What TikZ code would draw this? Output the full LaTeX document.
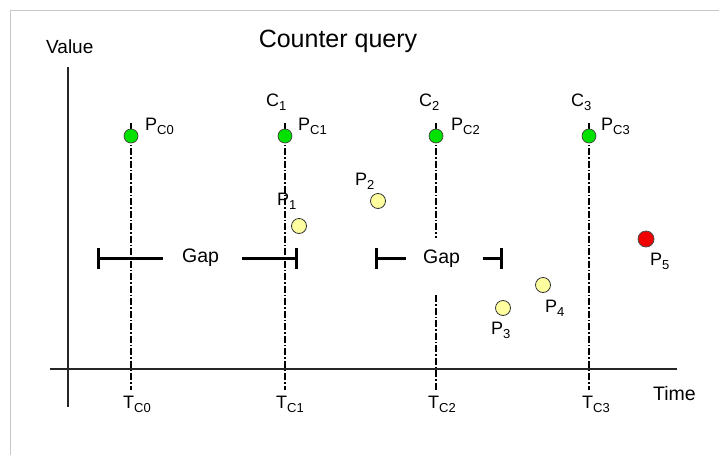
\documentclass[tikz,border=0pt]{standalone}
\usepackage{fontspec}
\setmainfont{Liberation Sans}
\usetikzlibrary{arrows.meta}
\definecolor{dotgreen}{RGB}{0,225,0}
\definecolor{dotyellow}{RGB}{255,255,160}
\definecolor{dotred}{RGB}{240,0,0}
\definecolor{framegray}{RGB}{200,200,200}
\newcommand{\sbs}[1]{\raisebox{-4.5pt}{\fontsize{13}{13}\selectfont #1}}
\begin{document}
\begin{tikzpicture}[x=1pt,y=-1pt,
  lbl/.style={inner sep=0pt, anchor=base west, font=\fontsize{18}{18}\selectfont},
  biglbl/.style={inner sep=0pt, anchor=base west, font=\fontsize{19.5}{19.5}\selectfont},
  cdot/.style={circle, draw=black!75, line width=0.7pt, fill=dotgreen, minimum size=14pt, inner sep=0pt},
  ydot/.style={circle, draw=black!80, line width=0.8pt, fill=dotyellow, minimum size=15pt, inner sep=0pt},
  rdot/.style={circle, draw=black!70, line width=0.8pt, fill=dotred, minimum size=16pt, inner sep=0pt},
  vline/.style={line width=2.4pt, dash pattern=on 7pt off 2pt on 1.5pt off 2pt},
  axis/.style={line width=1.1pt, black!85},
  gapbar/.style={line width=3pt, {Bar[width=21pt,line width=3pt]}-}]
\useasboundingbox (0,0) rectangle (719,455);
% frame
\draw[framegray, line width=1pt] (10,455) -- (10,10) -- (719,10);
% axes
\coordinate (ytop) at (68,67);
\coordinate (ybot) at (68,407);
\coordinate (xl) at (50,369);
\coordinate (xr) at (677,369);
\draw[axis] (ytop) -- (ybot);
\draw[axis] (xl) -- (xr);
% title and axis labels
\node[inner sep=0pt, anchor=base, font=\fontsize{25}{25}\selectfont] (title) at (338,47) {Counter query};
\node[lbl, font=\fontsize{19}{19}\selectfont] (value) at (46,53) {Value};
\node[biglbl] (time) at (653,400) {Time};
% vertical dash-dot lines
\foreach \i/\x in {0/131,1/285,3/589}{
  \coordinate (t\i) at (\x,123);
  \coordinate (b\i) at (\x,390);
  \draw[vline] (t\i) -- (b\i);
}
\coordinate (t2) at (436,123);
\coordinate (m2a) at (436,238);
\coordinate (m2b) at (436,295);
\coordinate (b2) at (436,390);
\draw[vline] (t2) -- (m2a);
\draw[vline] (m2b) -- (b2);
% green dots
\node[cdot] (pc0) at (131,136) {};
\node[cdot] (pc1) at (285,136) {};
\node[cdot] (pc2) at (436,136) {};
\node[cdot] (pc3) at (589,136) {};
% labels P_C
\node[lbl] (lpc0) at (145,130) {P\sbs{C0}};
\node[lbl] (lpc1) at (298,130) {P\sbs{C1}};
\node[lbl] (lpc2) at (451,130) {P\sbs{C2}};
\node[lbl] (lpc3) at (601,130) {P\sbs{C3}};
% C labels
\node[lbl] (c1) at (266,106) {C\sbs{1}};
\node[lbl] (c2) at (419,106) {C\sbs{2}};
\node[lbl] (c3) at (571,106) {C\sbs{3}};
% T labels
\node[lbl] (tc0) at (123,408) {T\sbs{C0}};
\node[lbl] (tc1) at (276,408) {T\sbs{C1}};
\node[lbl] (tc2) at (428,408) {T\sbs{C2}};
\node[lbl] (tc3) at (582,408) {T\sbs{C3}};
% gap bars
\coordinate (g1a) at (97,258);
\coordinate (g1b) at (163,258);
\coordinate (g1c) at (242,258);
\coordinate (g1d) at (298,258);
\draw[gapbar] (g1a) -- (g1b);
\draw[gapbar] (g1d) -- (g1c);
\node[biglbl] (gap1) at (182,262) {Gap};
\coordinate (g2a) at (375,258);
\coordinate (g2b) at (406,258);
\coordinate (g2c) at (483,258);
\coordinate (g2d) at (503,258);
\draw[gapbar] (g2a) -- (g2b);
\draw[gapbar] (g2d) -- (g2c);
\node[biglbl] (gap2) at (423,263) {Gap};
% points
\node[ydot] (p1) at (299,226) {};
\node[ydot] (p2) at (378,201) {};
\node[ydot] (p3) at (503,308) {};
\node[ydot] (p4) at (543,285) {};
\node[rdot] (p5) at (646,239) {};
\node[lbl] (lp1) at (277,205) {P\sbs{1}};
\node[lbl] (lp2) at (355,185) {P\sbs{2}};
\node[lbl] (lp3) at (491,334) {P\sbs{3}};
\node[lbl] (lp4) at (545,312) {P\sbs{4}};
\node[lbl] (lp5) at (650,265) {P\sbs{5}};
\end{tikzpicture}
\end{document}
